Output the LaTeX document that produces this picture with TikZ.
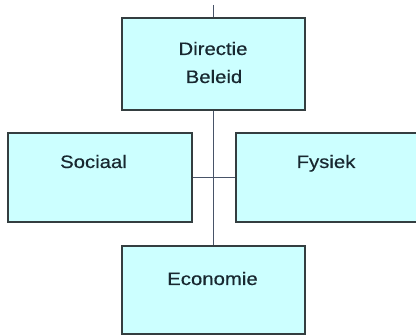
\documentclass[tikz,border=0pt]{standalone}
\usepackage{fontspec}
\setmainfont[FakeStretch=1.13,FakeBold=0.4]{Liberation Sans}
\begin{document}
\begin{tikzpicture}[x=1pt,y=1pt,
  boxfill/.style={draw=boxline, fill=boxcyan, line width=2pt, rectangle, inner sep=0pt},
  label text/.style={anchor=base, inner sep=0pt, text=labelink, font=\fontsize{18pt}{28pt}\selectfont},
  link/.style={draw=linkgray, line width=1.3pt}]
\definecolor{boxcyan}{RGB}{204,255,255}
\definecolor{boxline}{RGB}{52,62,64}
\definecolor{linkgray}{RGB}{72,84,104}
\definecolor{labelink}{RGB}{24,40,48}
\useasboundingbox (0,0) rectangle (416,-336);
\clip (0,0) rectangle (416,-336);
\fill[white] (0,0) rectangle (416,-336);

% boxes
\node[boxfill, minimum width=183pt, minimum height=92pt] (dir) at (213.5,-64) {};
\node[boxfill, minimum width=184pt, minimum height=89pt] (soc) at (100,-177.5) {};
\node[boxfill, minimum width=194pt, minimum height=89pt] (fys) at (333,-177.5) {};
\node[boxfill, minimum width=183pt, minimum height=88pt] (eco) at (213.5,-290) {};

% connectors
\coordinate (top) at (213.5,-5);
\draw[link] (top) -- (dir.north);
\draw[link] (dir.south) -- (eco.north);
\draw[link] (soc.east) -- (fys.west);

% labels
\node[label text] (tdir) at (213,-55) {Directie};
\node[label text] (tbel) at (214,-83) {Beleid};
\node[label text] (tsoc) at (93.5,-168) {Sociaal};
\node[label text] (tfys) at (326,-168) {Fysiek};
\node[label text] (teco) at (212.5,-285) {Economie};
\end{tikzpicture}
\end{document}
